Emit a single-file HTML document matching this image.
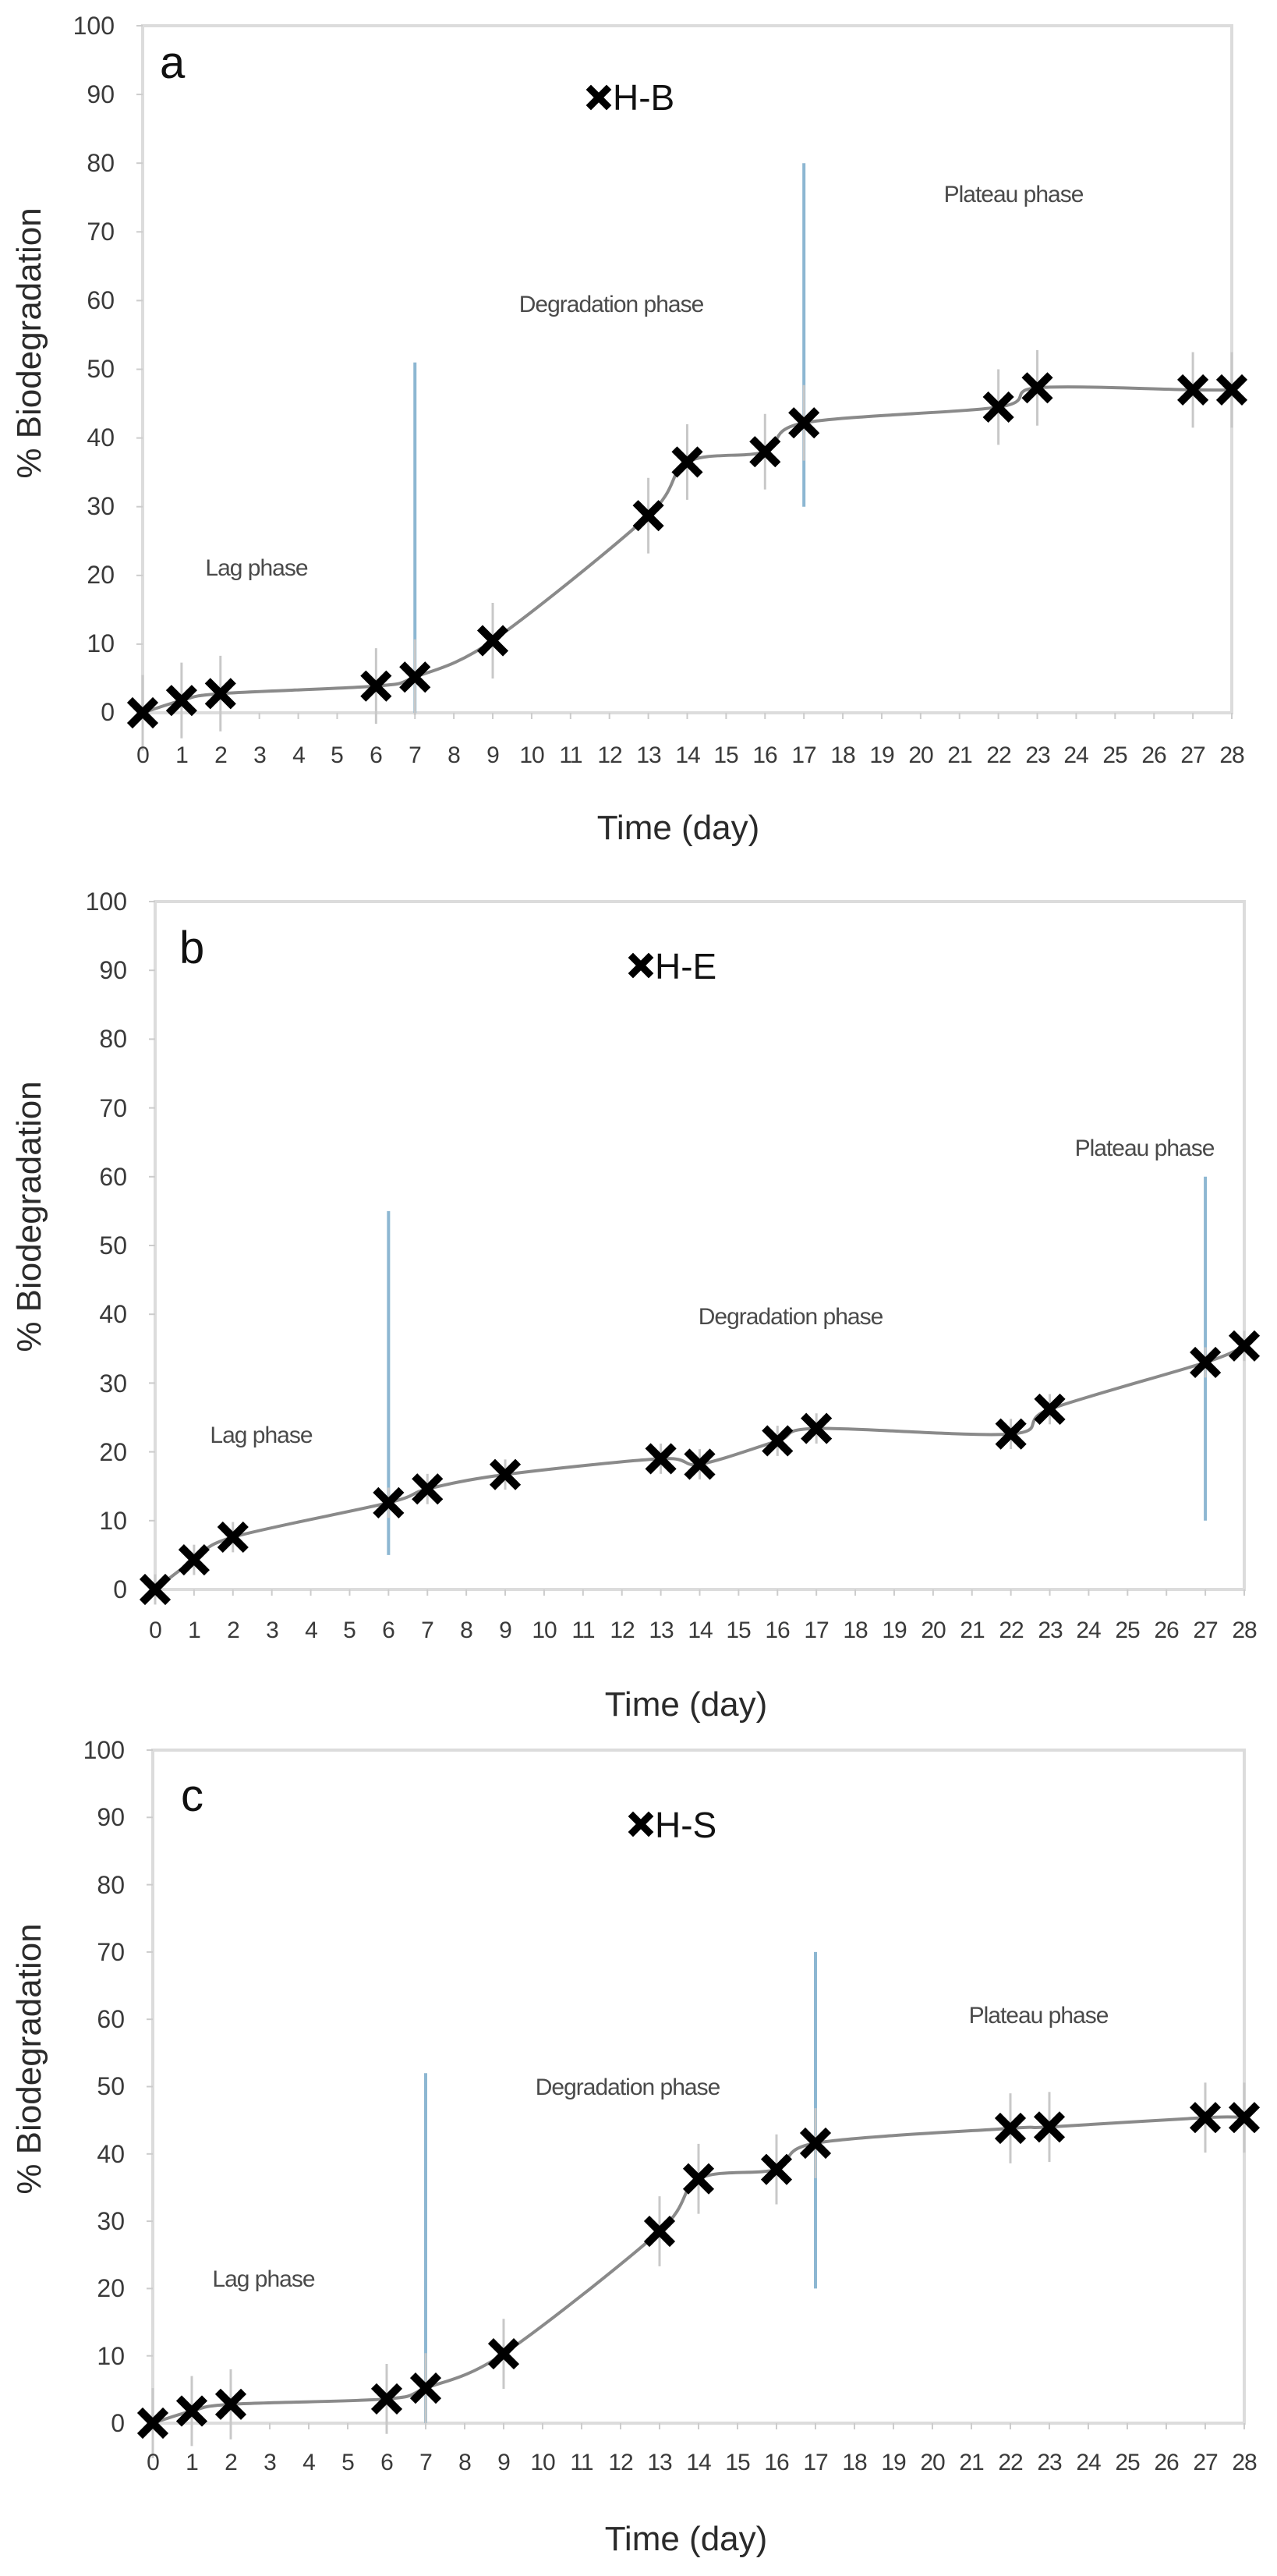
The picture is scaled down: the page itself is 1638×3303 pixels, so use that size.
<!DOCTYPE html>
<html><head><meta charset="utf-8">
<style>
html,body{margin:0;padding:0;background:#fff;}
svg{display:block;}
text{font-family:"Liberation Sans",sans-serif;}
.tk{font-size:32px;fill:#3a3a3a;text-anchor:end;}
.xt{font-size:30px;fill:#3a3a3a;text-anchor:middle;letter-spacing:-1px;}
.ph{font-size:30px;fill:#4a4a4a;text-anchor:middle;letter-spacing:-1px;}
.ax{font-size:44px;fill:#2a2a2a;text-anchor:middle;}
.lt{font-size:58px;fill:#111;}
.lg{font-size:46px;fill:#111;}
</style></head>
<body>
<svg id="s" width="1638" height="3303" viewBox="0 0 1638 3303" xmlns="http://www.w3.org/2000/svg">
<g id="g"></g>
<text class="lt" x="205" y="100">a</text>
<text class="lg" x="786" y="141">H-B</text>
<text class="ph" x="329" y="738">Lag phase</text>
<text class="ph" x="784" y="400">Degradation phase</text>
<text class="ph" x="1300" y="259">Plateau phase</text>
<text class="ax" x="870" y="1076">Time (day)</text>
<text class="ax" transform="translate(52,440) rotate(-90)">% Biodegradation</text>
<text class="lt" x="230" y="1235">b</text>
<text class="lg" x="840" y="1255">H-E</text>
<text class="ph" x="335" y="1850">Lag phase</text>
<text class="ph" x="1014" y="1698">Degradation phase</text>
<text class="ph" x="1468" y="1482">Plateau phase</text>
<text class="ax" x="880" y="2200">Time (day)</text>
<text class="ax" transform="translate(52,1560) rotate(-90)">% Biodegradation</text>
<text class="lt" x="232" y="2322">c</text>
<text class="lg" x="840" y="2356">H-S</text>
<text class="ph" x="338" y="2932">Lag phase</text>
<text class="ph" x="805" y="2686">Degradation phase</text>
<text class="ph" x="1332" y="2594">Plateau phase</text>
<text class="ax" x="880" y="3270">Time (day)</text>
<text class="ax" transform="translate(52,2640) rotate(-90)">% Biodegradation</text>
<g id="ticks">
<text class="tk" x="147" y="44">100</text><text class="tk" x="147" y="132">90</text><text class="tk" x="147" y="220">80</text><text class="tk" x="147" y="308">70</text><text class="tk" x="147" y="396">60</text><text class="tk" x="147" y="484">50</text><text class="tk" x="147" y="572">40</text><text class="tk" x="147" y="660">30</text><text class="tk" x="147" y="748">20</text><text class="tk" x="147" y="836">10</text><text class="tk" x="147" y="924">0</text>
<text class="tk" x="163" y="1167">100</text><text class="tk" x="163" y="1255">90</text><text class="tk" x="163" y="1343">80</text><text class="tk" x="163" y="1432">70</text><text class="tk" x="163" y="1520">60</text><text class="tk" x="163" y="1608">50</text><text class="tk" x="163" y="1696">40</text><text class="tk" x="163" y="1785">30</text><text class="tk" x="163" y="1873">20</text><text class="tk" x="163" y="1961">10</text><text class="tk" x="163" y="2049">0</text>
<text class="tk" x="160" y="2255">100</text><text class="tk" x="160" y="2341">90</text><text class="tk" x="160" y="2428">80</text><text class="tk" x="160" y="2514">70</text><text class="tk" x="160" y="2600">60</text><text class="tk" x="160" y="2686">50</text><text class="tk" x="160" y="2773">40</text><text class="tk" x="160" y="2859">30</text><text class="tk" x="160" y="2945">20</text><text class="tk" x="160" y="3032">10</text><text class="tk" x="160" y="3118">0</text>
</g>
<g id="xt">
<text class="xt" x="183" y="978">0</text><text class="xt" x="233" y="978">1</text><text class="xt" x="283" y="978">2</text><text class="xt" x="333" y="978">3</text><text class="xt" x="383" y="978">4</text><text class="xt" x="432" y="978">5</text><text class="xt" x="482" y="978">6</text><text class="xt" x="532" y="978">7</text><text class="xt" x="582" y="978">8</text><text class="xt" x="632" y="978">9</text><text class="xt" x="682" y="978">10</text><text class="xt" x="732" y="978">11</text><text class="xt" x="782" y="978">12</text><text class="xt" x="832" y="978">13</text><text class="xt" x="882" y="978">14</text><text class="xt" x="931" y="978">15</text><text class="xt" x="981" y="978">16</text><text class="xt" x="1031" y="978">17</text><text class="xt" x="1081" y="978">18</text><text class="xt" x="1131" y="978">19</text><text class="xt" x="1181" y="978">20</text><text class="xt" x="1231" y="978">21</text><text class="xt" x="1281" y="978">22</text><text class="xt" x="1331" y="978">23</text><text class="xt" x="1380" y="978">24</text><text class="xt" x="1430" y="978">25</text><text class="xt" x="1480" y="978">26</text><text class="xt" x="1530" y="978">27</text><text class="xt" x="1580" y="978">28</text>
<text class="xt" x="199" y="2100">0</text><text class="xt" x="249" y="2100">1</text><text class="xt" x="299" y="2100">2</text><text class="xt" x="349" y="2100">3</text><text class="xt" x="399" y="2100">4</text><text class="xt" x="448" y="2100">5</text><text class="xt" x="498" y="2100">6</text><text class="xt" x="548" y="2100">7</text><text class="xt" x="598" y="2100">8</text><text class="xt" x="648" y="2100">9</text><text class="xt" x="698" y="2100">10</text><text class="xt" x="748" y="2100">11</text><text class="xt" x="798" y="2100">12</text><text class="xt" x="848" y="2100">13</text><text class="xt" x="898" y="2100">14</text><text class="xt" x="947" y="2100">15</text><text class="xt" x="997" y="2100">16</text><text class="xt" x="1047" y="2100">17</text><text class="xt" x="1097" y="2100">18</text><text class="xt" x="1147" y="2100">19</text><text class="xt" x="1197" y="2100">20</text><text class="xt" x="1247" y="2100">21</text><text class="xt" x="1297" y="2100">22</text><text class="xt" x="1347" y="2100">23</text><text class="xt" x="1396" y="2100">24</text><text class="xt" x="1446" y="2100">25</text><text class="xt" x="1496" y="2100">26</text><text class="xt" x="1546" y="2100">27</text><text class="xt" x="1596" y="2100">28</text>
<text class="xt" x="196" y="3167">0</text><text class="xt" x="246" y="3167">1</text><text class="xt" x="296" y="3167">2</text><text class="xt" x="346" y="3167">3</text><text class="xt" x="396" y="3167">4</text><text class="xt" x="446" y="3167">5</text><text class="xt" x="496" y="3167">6</text><text class="xt" x="546" y="3167">7</text><text class="xt" x="596" y="3167">8</text><text class="xt" x="646" y="3167">9</text><text class="xt" x="696" y="3167">10</text><text class="xt" x="746" y="3167">11</text><text class="xt" x="796" y="3167">12</text><text class="xt" x="846" y="3167">13</text><text class="xt" x="896" y="3167">14</text><text class="xt" x="946" y="3167">15</text><text class="xt" x="996" y="3167">16</text><text class="xt" x="1046" y="3167">17</text><text class="xt" x="1096" y="3167">18</text><text class="xt" x="1146" y="3167">19</text><text class="xt" x="1196" y="3167">20</text><text class="xt" x="1246" y="3167">21</text><text class="xt" x="1296" y="3167">22</text><text class="xt" x="1346" y="3167">23</text><text class="xt" x="1396" y="3167">24</text><text class="xt" x="1446" y="3167">25</text><text class="xt" x="1496" y="3167">26</text><text class="xt" x="1546" y="3167">27</text><text class="xt" x="1596" y="3167">28</text>
</g>
</svg>
<script>
(function(){
var NS="http://www.w3.org/2000/svg",g=document.getElementById("g");
function el(t,a){var e=document.createElementNS(NS,t);for(var k in a)e.setAttribute(k,a[k]);g.appendChild(e);return e;}
var days=[0,1,2,6,7,9,13,14,16,17,22,23,27,28];
var charts=[
{x0:183,x1:1580,y0:914,y1:33,v:[0,1.8,2.8,3.9,5.2,10.5,28.7,36.5,38,42.2,44.5,47.3,47,47],e:5.5,blue:[[7,51,0],[17,80,30]],lg:[768,125]},
{x0:199,x1:1596,y0:2038,y1:1156,v:[0,4.3,7.6,12.6,14.6,16.7,19,18.2,21.6,23.4,22.6,26.2,33,35.4],e:2.2,blue:[[6,55,5],[27,60,10]],lg:[822,1238]},
{x0:196,x1:1596,y0:3107,y1:2244,v:[0,1.8,2.8,3.6,5.2,10.3,28.5,36.3,37.7,41.6,43.8,44,45.4,45.4],e:5.2,blue:[[7,52,0],[17,70,20]],lg:[822,2339]}
];
charts.forEach(function(c){
 var X=function(d){return c.x0+(c.x1-c.x0)*d/28;},Y=function(v){return c.y0+(c.y1-c.y0)*v/100;};
 el("rect",{x:c.x0,y:c.y1,width:c.x1-c.x0,height:c.y0-c.y1,fill:"none",stroke:"#dcdcdc","stroke-width":4});
 for(var i=0;i<=10;i++){el("line",{x1:c.x0-8,x2:c.x0,y1:Y(i*10),y2:Y(i*10),stroke:"#ccc","stroke-width":2});}
 for(var d=0;d<=28;d++){el("line",{x1:X(d),x2:X(d),y1:c.y0,y2:c.y0+8,stroke:"#ccc","stroke-width":2});}
 c.blue.forEach(function(b){el("line",{x1:X(b[0]),x2:X(b[0]),y1:Y(b[1]),y2:Y(b[2]),stroke:"#8db7d2","stroke-width":4});});
 var p=days.map(function(d,i){return [X(d),Y(c.v[i])];});
 p.forEach(function(q){el("line",{x1:q[0],x2:q[0],y1:q[1]-(c.y0-c.y1)*c.e/100,y2:q[1]+(c.y0-c.y1)*c.e/100,stroke:"#c8c8c8","stroke-width":3});});
 var s="M"+p[0][0]+","+p[0][1];
 for(var i=0;i<p.length-1;i++){var a=p[i-1]||p[i],b=p[i],cc=p[i+1],dd=p[i+2]||cc,t=0.16;
  s+=" C"+(b[0]+(cc[0]-a[0])*t)+","+(b[1]+(cc[1]-a[1])*t)+" "+(cc[0]-(dd[0]-b[0])*t)+","+(cc[1]-(dd[1]-b[1])*t)+" "+cc[0]+","+cc[1];}
 el("path",{d:s,fill:"none",stroke:"#8a8a8a","stroke-width":4});
 function mk(x,y,r,w){el("path",{d:"M"+(x-r)+","+(y-r)+"L"+(x+r)+","+(y+r)+"M"+(x+r)+","+(y-r)+"L"+(x-r)+","+(y+r),stroke:"#000","stroke-width":w,"stroke-linecap":"square",fill:"none"});}
 p.forEach(function(q){mk(q[0],q[1],13,10);});
 mk(c.lg[0],c.lg[1],10,9);
});
})();
</script>
</body></html>
